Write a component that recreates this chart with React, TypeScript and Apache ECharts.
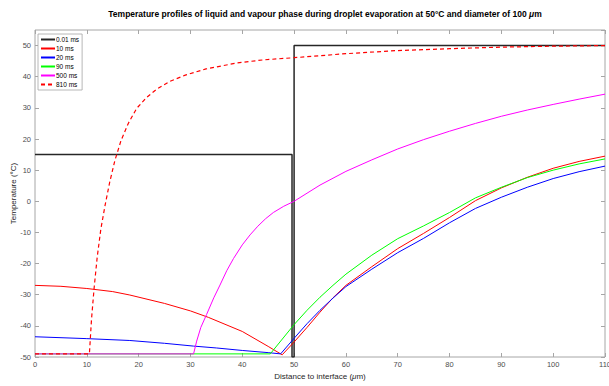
import React, { useEffect, useRef } from "react";
import * as echarts from "echarts";

const legendNames = ["0.01 ms", "10 ms", "20 ms", "90 ms", "500 ms", "810 ms"];

const t001X = [0, 49.6, 49.6, 50, 50, 110];
const t001Y = [15, 15, -50, -50, 50, 50];

const t10X = [0, 5, 10, 15, 18.3, 25, 30, 33.5, 40, 45, 47.7, 50, 52.5, 55, 57.5, 60, 65, 70, 75, 80, 85, 90, 95, 100, 105, 110];
const t10Y = [-27, -27.3, -28, -29, -30.1, -32.8, -35.2, -37.3, -41.8, -46.6, -49.3, -45.2, -40.5, -35.6, -31, -27, -21, -15.2, -10.3, -5.2, 0.2, 4.3, 7.7, 10.6, 12.8, 14.5];

const t20X = [0, 10, 18.3, 25, 30.6, 35, 40, 45, 47.4, 50, 52.5, 55, 57.5, 60, 65, 70, 75, 80, 85, 90, 95, 100, 105, 110];
const t20Y = [-43.5, -44.1, -44.7, -45.6, -46.5, -47.1, -47.9, -48.6, -49, -44, -39.3, -35, -31.1, -27.4, -21.8, -16.5, -11.9, -6.9, -2.3, 1.3, 4.5, 7.3, 9.5, 11.3];

const t90X = [0, 45.4, 50, 52.5, 55, 57.5, 60, 65, 70, 75, 80, 85, 90, 95, 100, 105, 110];
const t90Y = [-49, -49, -39.6, -35, -30.8, -27, -23.4, -17.3, -12, -7.9, -3.6, 1.1, 4.5, 7.6, 10, 12, 13.6];

const t500X = [0, 30.6, 31.2, 32, 33.1, 34.5, 35.7, 37, 38.3, 40, 41.5, 43, 44.5, 46, 48, 50, 55, 60, 65, 70, 75, 80, 85, 90, 95, 100, 105, 110];
const t500Y = [-49, -49, -44.9, -40.5, -36.4, -31, -26.9, -22.3, -18.4, -14, -10.8, -8, -5.6, -3.6, -1.6, 0, 5.2, 9.6, 13.3, 16.8, 19.8, 22.5, 25, 27.3, 29.3, 31.1, 32.8, 34.4];

const t810X = [0, 10.5, 10.9, 11.4, 12, 12.7, 13.5, 14.4, 15.4, 16.6, 18, 19.6, 21.5, 23.5, 26, 29, 33, 38.9, 44, 50, 60, 70, 80, 90, 100, 110];
const t810Y = [-49, -49, -38, -28, -18, -9, -1.5, 6, 13, 19.5, 25, 29.8, 33.3, 36, 38.5, 40.5, 42.5, 44.4, 45.4, 46.1, 47.4, 48.4, 49, 49.5, 49.8, 50];

const pairs = (xs: number[], ys: number[]) => xs.map((x, i) => [x, ys[i]]);

const FONT = "Liberation Sans";
const AXIS_LINE = "#a6a6a6";
const LABEL = "#4d4d4d";

export default function App() {
  const ref = useRef<HTMLDivElement>(null);
  useEffect(() => {
    if (!ref.current) return;
    const chart = echarts.init(ref.current, undefined, { renderer: "svg" });
    const mk = (name: string, xs: number[], ys: number[], color: string, width: number, type: any = "solid") => ({
      name,
      type: "line",
      data: pairs(xs, ys),
      symbol: "none",
      showSymbol: false,
      lineStyle: { color, width, type },
      itemStyle: { color },
      xAxisIndex: 0,
      yAxisIndex: 0,
      clip: true,
    });
    const axisCommon = {
      type: "value",
      axisLine: { show: false, onZero: false },
      splitLine: { show: false },
      axisTick: { show: true, inside: true, length: 4, lineStyle: { color: AXIS_LINE } },
    };
    chart.setOption({
      animation: false,
      backgroundColor: "#ffffff",
      title: {
        text: "Temperature profiles of liquid and vapour phase during droplet evaporation at 50°C and diameter of 100 {i|μ}m",
        left: 320,
        textAlign: "center",
        top: 4,
        textStyle: {
          fontFamily: FONT,
          fontSize: 8.5,
          fontWeight: "bold",
          color: "#000",
          rich: { i: { fontFamily: FONT, fontSize: 8.5, fontStyle: "italic", fontWeight: "bold", color: "#000" } },
        },
      },
      legend: {
        data: legendNames,
        orient: "vertical",
        left: 38,
        top: 34,
        itemWidth: 14,
        itemHeight: 6,
        itemGap: 2,
        padding: [2, 3, 2, 2],
        backgroundColor: "#fff",
        borderColor: "#a6a6a6",
        borderWidth: 0.8,
        itemStyle: { opacity: 0 },
        textStyle: { fontFamily: FONT, fontSize: 6.5, color: "#000", padding: [0, 0, 0, -4] },
      },
      grid: {
        left: 35,
        right: 4,
        top: 30,
        bottom: 29,
        show: true,
        containLabel: false,
        outerBoundsMode: "none",
        borderColor: AXIS_LINE,
        borderWidth: 1,
        backgroundColor: "#fff",
      },
      xAxis: [
        {
          ...axisCommon,
          min: 0,
          max: 110,
          interval: 10,
          position: "bottom",
          name: "{n|Distance to interface (}{i|μ}{n|m)}",
          nameLocation: "middle",
          nameGap: 15,
          nameMoveOverlap: false,
          nameTextStyle: {
            rich: {
              n: { fontFamily: FONT, fontSize: 8, color: "#262626" },
              i: { fontFamily: FONT, fontSize: 8, fontStyle: "italic", color: "#262626" },
            },
          },
          axisLabel: { fontFamily: FONT, fontSize: 7.5, color: LABEL, margin: 3 },
        },
        {
          ...axisCommon,
          min: 0,
          max: 110,
          interval: 10,
          position: "top",
          axisLabel: { show: false },
        },
      ],
      yAxis: [
        {
          ...axisCommon,
          min: -50,
          max: 55,
          interval: 10,
          position: "left",
          name: "Temperature (°C)",
          nameLocation: "middle",
          nameGap: 18,
          nameMoveOverlap: false,
          nameTextStyle: { fontFamily: FONT, fontSize: 8, color: "#262626" },
          axisLabel: { fontFamily: FONT, fontSize: 7.5, color: LABEL, margin: 4, showMaxLabel: false },
        },
        {
          ...axisCommon,
          min: -50,
          max: 55,
          interval: 10,
          position: "right",
          axisLabel: { show: false },
        },
      ],
      series: [
        mk(legendNames[0], t001X, t001Y, "#262626", 1.5),
        mk(legendNames[1], t10X, t10Y, "#ff0000", 1),
        mk(legendNames[2], t20X, t20Y, "#0000ff", 1),
        mk(legendNames[3], t90X, t90Y, "#00ff00", 1),
        mk(legendNames[4], t500X, t500Y, "#ff00ff", 1),
        mk(legendNames[5], t810X, t810Y, "#ff0000", 1.2, [4, 3]),
      ],
    });
    return () => chart.dispose();
  }, []);
  return <div ref={ref} style={{ width: 609, height: 386, position: "absolute", left: 0, top: 0 }} />;
}
